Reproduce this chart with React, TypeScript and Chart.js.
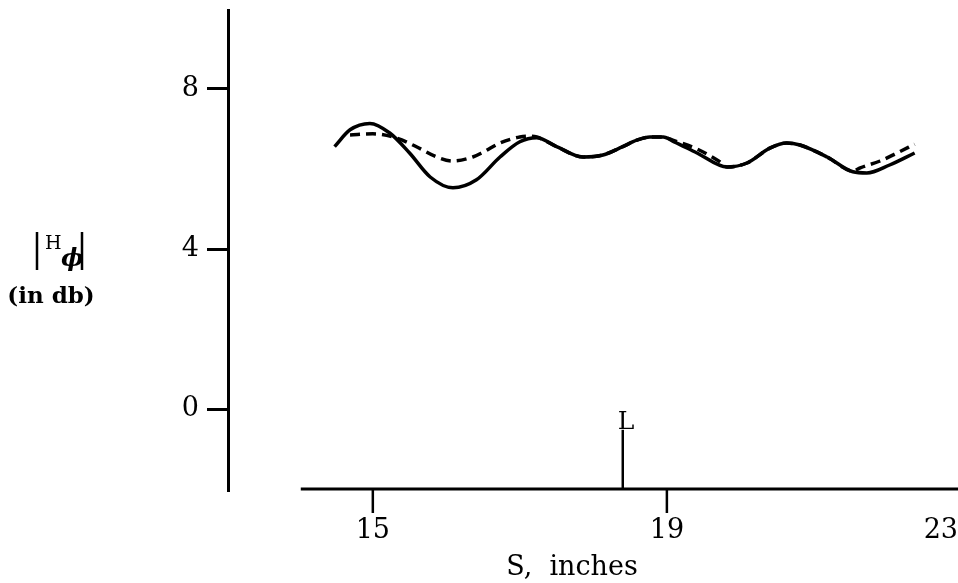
import React, { useEffect, useRef } from "react";
import { Chart, registerables } from "chart.js";

Chart.register(...registerables);

// Measured |H_phi| (dB) versus position S (inches)
const solidS = [14.48, 14.69, 14.96, 15.23, 15.5, 15.78, 16.09, 16.41, 16.73, 17.0, 17.23, 17.5, 17.86, 18.13, 18.4, 18.59, 18.77, 18.95, 19.1, 19.41, 19.82, 20.09, 20.4, 20.63, 20.81, 21.18, 21.53, 21.72, 22.03, 22.37];
const solidH = [6.56, 6.98, 7.14, 6.9, 6.4, 5.8, 5.53, 5.73, 6.3, 6.68, 6.78, 6.56, 6.3, 6.35, 6.56, 6.72, 6.8, 6.8, 6.68, 6.4, 6.05, 6.15, 6.52, 6.65, 6.6, 6.3, 5.93, 5.9, 6.1, 6.4];

// Computed |H_phi| (dB)
const dashedS = [14.69, 15.0, 15.33, 15.6, 15.87, 16.09, 16.36, 16.5, 16.73, 17.0, 17.14, 17.23, 17.5, 17.86, 18.13, 18.4, 18.59, 18.77, 18.95, 19.08, 19.41, 19.72, 19.82, 20.09, 20.4, 20.63, 20.81, 21.18, 21.53, 21.63, 21.9, 22.13, 22.37];
const dashedH = [6.85, 6.88, 6.77, 6.55, 6.3, 6.2, 6.3, 6.42, 6.65, 6.8, 6.82, 6.8, 6.56, 6.3, 6.35, 6.56, 6.72, 6.8, 6.8, 6.72, 6.5, 6.18, 6.05, 6.15, 6.52, 6.65, 6.6, 6.3, 5.95, 6.03, 6.2, 6.4, 6.62];

const yTicks = [0, 4, 8];
const xTicks = [15, 19, 23];
const xTickLabels = ["15", "19", "23"];
const xAxisStart = 14.02;
const markerS = 18.4;
const markerTop = -0.52;
const markerLabel = "L";
const xTitle = "S,  inches";
const yTitleTop = "H";
const yTitleSub = "ϕ";
const yTitleBottom = "(in db)";

const FONT = "'DejaVu Serif', serif";

const toPoints = (xs: number[], ys: number[]) => xs.map((x, i) => ({ x, y: ys[i] }));

const decorations = {
  id: "decorations",
  afterDraw(chart: any) {
    const { ctx, chartArea, width } = chart;
    const xs = chart.scales.x;
    const ys = chart.scales.y;
    ctx.save();
    ctx.strokeStyle = "#000";
    ctx.fillStyle = "#000";
    ctx.lineCap = "butt";

    // horizontal S axis
    const axisY = chartArea.bottom - 1;
    ctx.lineWidth = 3;
    ctx.beginPath();
    ctx.moveTo(xs.getPixelForValue(xAxisStart), axisY);
    ctx.lineTo(width, axisY);
    ctx.stroke();

    // S ticks and labels
    ctx.font = `27px ${FONT}`;
    ctx.textAlign = "center";
    ctx.textBaseline = "alphabetic";
    xTicks.forEach((v, i) => {
      const px = xs.getPixelForValue(v);
      if (px < width) {
        ctx.lineWidth = 2.5;
        ctx.beginPath();
        ctx.moveTo(px, axisY);
        ctx.lineTo(px, axisY + 24);
        ctx.stroke();
      }
      const label = xTickLabels[i];
      const half = ctx.measureText(label).width / 2;
      const lx = Math.min(px, width - half);
      ctx.fillText(label, lx, axisY + 49);
    });

    // S axis title
    ctx.fillText(xTitle, 572, 575);

    // L marker
    const mx = xs.getPixelForValue(markerS);
    const my = ys.getPixelForValue(markerTop);
    ctx.lineWidth = 2.5;
    ctx.beginPath();
    ctx.moveTo(mx, my);
    ctx.lineTo(mx, axisY);
    ctx.stroke();
    ctx.font = `25px ${FONT}`;
    ctx.textAlign = "left";
    ctx.fillText(markerLabel, mx - 5, my - 1);

    // |H_phi| (in db)
    ctx.lineWidth = 2.5;
    ctx.beginPath();
    ctx.moveTo(37, 232);
    ctx.lineTo(37, 270);
    ctx.moveTo(82, 232);
    ctx.lineTo(82, 270);
    ctx.stroke();
    ctx.font = `19px ${FONT}`;
    ctx.textAlign = "left";
    ctx.fillText(yTitleTop, 45, 249);
    ctx.font = `italic bold 24px ${FONT}`;
    ctx.fillText(yTitleSub, 61, 266);
    ctx.font = `bold 23px ${FONT}`;
    ctx.textAlign = "center";
    ctx.fillText(yTitleBottom, 51, 303);
    ctx.restore();
  },
};

export default function App() {
  const ref = useRef<HTMLCanvasElement>(null);

  useEffect(() => {
    if (!ref.current) return;
    const chart = new Chart(ref.current, {
      type: "line",
      data: {
        datasets: [
          {
            data: toPoints(solidS, solidH),
            borderColor: "#000",
            borderWidth: 3.5,
            pointRadius: 0,
            cubicInterpolationMode: "monotone",
            fill: false,
          },
          {
            data: toPoints(dashedS, dashedH),
            borderColor: "#000",
            borderWidth: 3.5,
            borderDash: [10, 6],
            pointRadius: 0,
            cubicInterpolationMode: "monotone",
            fill: false,
          },
        ],
      },
      options: {
        responsive: false,
        animation: false,
        layout: { padding: { top: 10, bottom: 93, left: 0, right: 0 } },
        plugins: { legend: { display: false }, tooltip: { enabled: false }, title: { display: false } },
        scales: {
          x: {
            type: "linear",
            min: 13.03,
            max: 22.96,
            display: false,
          },
          y: {
            type: "linear",
            min: -2.025,
            max: 9.975,
            afterFit: (scale: any) => {
              scale.width = 228;
              scale.paddingTop = 0;
              scale.paddingBottom = 0;
            },
            afterBuildTicks: (scale: any) => {
              scale.ticks = yTicks.map((v) => ({ value: v }));
            },
            border: { display: true, color: "#000", width: 3 },
            grid: {
              display: true,
              drawOnChartArea: false,
              drawTicks: true,
              tickLength: 21,
              color: "#000",
              lineWidth: 3,
            },
            ticks: {
              color: "#000",
              padding: 8,
              font: { family: "DejaVu Serif", size: 27 },
            },
          },
        },
      },
      plugins: [decorations],
    });
    return () => chart.destroy();
  }, []);

  return (
    <div style={{ position: "absolute", left: 0, top: 0, width: 958, height: 583, background: "#fff" }}>
      <canvas ref={ref} width={958} height={583} style={{ display: "block" }} />
    </div>
  );
}
